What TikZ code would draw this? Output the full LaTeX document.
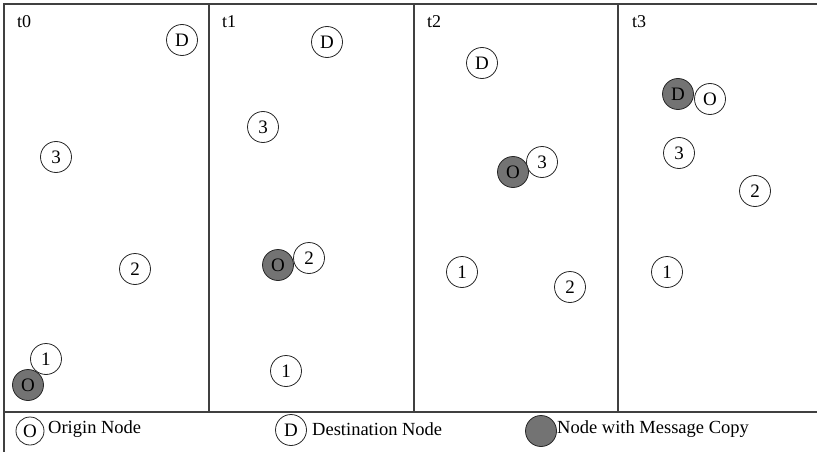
\documentclass[tikz,border=0pt]{standalone}
\usepackage{fontspec}
\setmainfont{Liberation Serif}
\definecolor{framegray}{HTML}{404040}
\definecolor{copyfill}{HTML}{737373}
\begin{document}
\begin{tikzpicture}[x=1pt,y=-1pt,
  frameline/.style={draw=framegray,line width=1.2pt},
  host/.style={circle,draw=black!85,line width=0.8pt,fill=white,minimum size=31pt,inner sep=0pt,font=\fontsize{19}{21}\selectfont},
  carrier/.style={host,fill=copyfill},
  slotlabel/.style={anchor=base west,inner sep=0pt,font=\fontsize{18}{20}\selectfont},
  legendtext/.style={anchor=west,inner sep=0pt,font=\fontsize{18.5}{21}\selectfont}]
\useasboundingbox (0,0) rectangle (817,452);
% frame and time slots
\draw[frameline] (4,452) -- (4,4) -- (817,4);
\draw[frameline] (4,412) -- (817,412);
\foreach \x in {209,414,618} \draw[frameline] (\x,4) -- (\x,412);
\node[slotlabel] (l0) at (17,28) {t0};
\node[slotlabel] (l1) at (222,28) {t1};
\node[slotlabel] (l2) at (427,28) {t2};
\node[slotlabel] (l3) at (632,28) {t3};
% t0
\node[host] (d0) at (182,40) {D};
\node[host] (c0) at (56,157) {3};
\node[host] (b0) at (135,269) {2};
\node[host] (a0) at (46,359) {1};
\node[carrier] (o0) at (28,385) {O};
% t1
\node[host] (d1) at (327,42) {D};
\node[host] (c1) at (263,127) {3};
\node[host] (b1) at (309,258) {2};
\node[host] (a1) at (286,371) {1};
\node[carrier] (o1) at (278,265) {O};
% t2
\node[host] (d2) at (482,63) {D};
\node[host] (c2) at (542,162) {3};
\node[host] (a2) at (462,272) {1};
\node[host] (b2) at (570,287) {2};
\node[carrier] (o2) at (513,172) {O};
% t3
\node[host] (o3) at (710,99) {O};
\node[host] (c3) at (679,153) {3};
\node[host] (b3) at (755,191) {2};
\node[host] (a3) at (667,272) {1};
\node[carrier] (d3) at (678,94) {D};
% legend
\node[host,minimum size=28pt] (ko) at (30,431) {O};
\node[legendtext] (kot) at (48,429) {Origin Node};
\node[host] (kd) at (291,430) {D};
\node[legendtext] (kdt) at (312,429) {Destination Node};
\node[carrier] (kc) at (541,431) {};
\node[legendtext] (kct) at (557,429) {Node with Message Copy};
\end{tikzpicture}
\end{document}
